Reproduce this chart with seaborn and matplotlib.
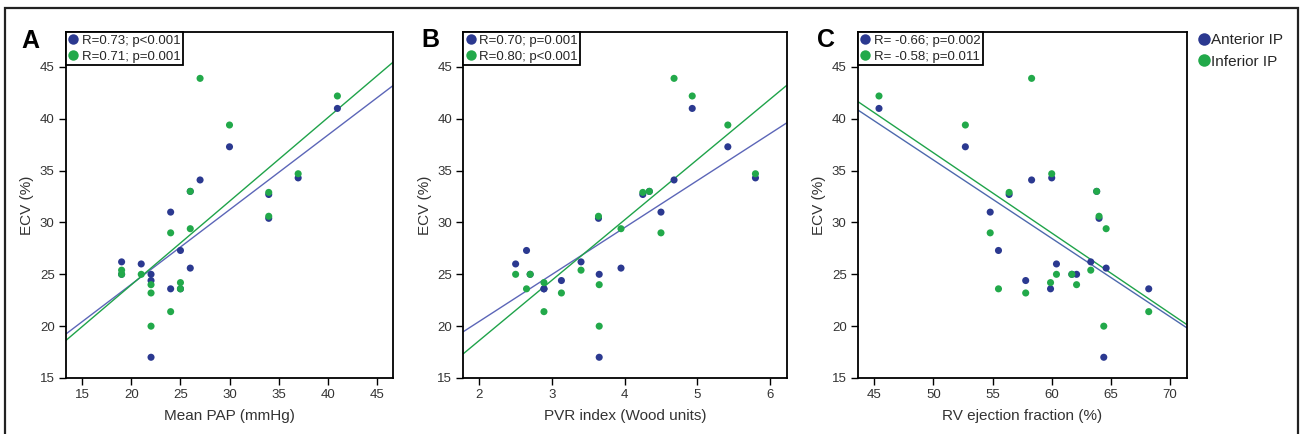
import matplotlib
matplotlib.use("Agg")
import matplotlib.pyplot as plt
import seaborn as sns
import pandas as pd
from matplotlib.lines import Line2D
from matplotlib.patches import Rectangle

# ---- data (one entry per patient) ----
ecv_anterior = [41.0, 37.3, 31.0, 27.3, 32.7, 24.4, 34.1, 23.6, 34.3, 26.0, 25.0, 25.0, 26.2, 33.0, 30.4, 17.0, 25.6, 23.6]
ecv_inferior = [42.2, 39.4, 29.0, 23.6, 32.9, 23.2, 43.9, 24.2, 34.7, 25.0, 25.0, 24.0, 25.4, 33.0, 30.6, 20.0, 29.4, 21.4]
mean_pap = [41, 30, 24, 25, 34, 22, 27, 25, 37, 21, 19, 22, 19, 26, 34, 22, 26, 24]
pvr_index = [4.93, 5.42, 4.50, 2.65, 4.25, 3.13, 4.68, 2.89, 5.80, 2.50, 2.70, 3.65, 3.40, 4.34, 3.64, 3.65, 3.95, 2.89]
rv_ef = [45.4, 52.7, 54.8, 55.5, 56.4, 57.8, 58.3, 59.9, 60.0, 60.4, 61.7, 62.1, 63.3, 63.8, 64.0, 64.4, 64.6, 68.2]

panel_letters = ["A", "B", "C"]
x_labels = ["Mean PAP (mmHg)", "PVR index (Wood units)", "RV ejection fraction (%)"]
stats_anterior = ["R=0.73; p<0.001", "R=0.70; p=0.001", "R= -0.66; p=0.002"]
stats_inferior = ["R=0.71; p=0.001", "R=0.80; p<0.001", "R= -0.58; p=0.011"]
x_ticks = [[15, 20, 25, 30, 35, 40, 45], [2, 3, 4, 5, 6], [45, 50, 55, 60, 65, 70]]
x_limits = [(13.3, 46.7), (1.78, 6.23), (43.6, 71.46)]
y_ticks = [15, 20, 25, 30, 35, 40, 45]
series_names = ["Anterior IP", "Inferior IP"]

df = pd.DataFrame({
    "Mean PAP": mean_pap, "PVR": pvr_index, "RVEF": rv_ef,
    "Anterior": ecv_anterior, "Inferior": ecv_inferior,
})
x_cols = ["Mean PAP", "PVR", "RVEF"]

BLUE = "#2b3990"
GREEN = "#22a94a"
BLUE_LINE = ["#5c66b8", "#5c66b8", "#4d69ad"]
GREEN_LINE = "#1fa34a"

sns.set_theme(style="ticks")
plt.rcParams["font.family"] = ["Liberation Sans", "DejaVu Sans"]

W, H = 1301, 434
fig = plt.figure(figsize=(W / 100, H / 100), dpi=100)

# axes boxes in pixels: left, right
boxes = [(65.7, 393.3), (463.3, 786.7), (857.7, 1187.3)]
top_px, bot_px = 31.7, 378.0
letter_pos = [(21, 48), (421, 47), (817, 47)]

for i, (l, r) in enumerate(boxes):
    ax = fig.add_axes([l / W, (H - bot_px) / H, (r - l) / W, (bot_px - top_px) / H])
    ax.set_xlim(*x_limits[i])
    ax.set_ylim(15, 48.4)
    xc = x_cols[i]
    sns.regplot(data=df, x=xc, y="Anterior", ax=ax, scatter=False, ci=None, truncate=False,
                line_kws=dict(color=BLUE_LINE[i], lw=1.0, zorder=2))
    sns.regplot(data=df, x=xc, y="Inferior", ax=ax, scatter=False, ci=None, truncate=False,
                line_kws=dict(color=GREEN_LINE, lw=1.0, zorder=2))
    sns.scatterplot(data=df, x=xc, y="Anterior", ax=ax, color=BLUE, s=26, edgecolor="none", zorder=3)
    sns.scatterplot(data=df, x=xc, y="Inferior", ax=ax, color=GREEN, s=26, edgecolor="none", zorder=4)
    ax.set_xlim(*x_limits[i])
    ax.set_ylim(15, 48.4)
    ax.set_xticks(x_ticks[i])
    ax.set_yticks(y_ticks)
    ax.tick_params(axis="both", direction="out", length=5, width=1.0, labelsize=9.5,
                   colors="black", labelcolor="#333333", pad=3)
    for sp in ax.spines.values():
        sp.set_visible(True)
        sp.set_linewidth(1.3)
        sp.set_color("black")
    ax.set_xlabel(x_labels[i], fontsize=11, color="#333333", labelpad=6)
    ax.set_ylabel("ECV (%)", fontsize=11, color="#333333", labelpad=4)
    handles = [
        Line2D([], [], marker="o", ls="none", color=BLUE, markersize=7.5, markeredgewidth=0),
        Line2D([], [], marker="o", ls="none", color=GREEN, markersize=7.5, markeredgewidth=0),
    ]
    leg = ax.legend(handles, [stats_anterior[i], stats_inferior[i]], loc="upper left",
                    borderaxespad=0, frameon=True, fancybox=False, fontsize=9.5,
                    borderpad=0.2, handlelength=0.7, handletextpad=0.3, labelspacing=0.28)
    leg.get_frame().set_edgecolor("black")
    leg.get_frame().set_linewidth(1.3)
    leg.get_frame().set_alpha(1)
    lx, ly = letter_pos[i]
    fig.text(lx / W, (H - ly) / H, panel_letters[i], fontsize=18, fontweight="bold",
             ha="left", va="baseline", color="black")

# figure legend
fh = [
    Line2D([], [], marker="o", ls="none", color=BLUE, markersize=9, markeredgewidth=0),
    Line2D([], [], marker="o", ls="none", color=GREEN, markersize=9, markeredgewidth=0),
]
fig.legend(fh, series_names, loc="upper left", bbox_to_anchor=(1199 / W, (H - 33) / H),
           frameon=False, fontsize=11, handlelength=0.7, handletextpad=0.1,
           labelspacing=0.5, borderpad=0, borderaxespad=0)

# outer frame (open at the bottom)
fig.add_artist(Rectangle((5 / W, -0.1), (1297.5 - 5) / W, (H - 8) / H + 0.1,
                         transform=fig.transFigure, fill=False, edgecolor="#222222",
                         linewidth=1.6, clip_on=False))

fig.savefig("out.png", dpi=100)
